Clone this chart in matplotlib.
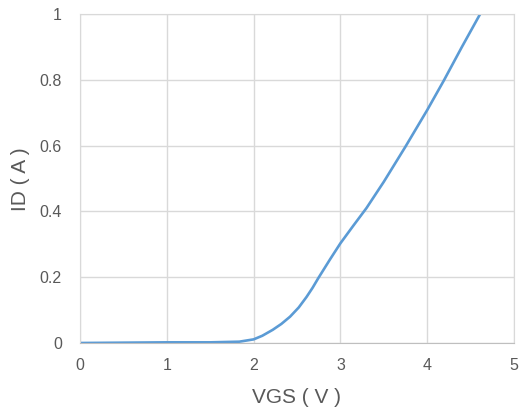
import numpy as np
import matplotlib.pyplot as plt

vgs = [0.0, 0.5, 1.0, 1.5, 1.835, 2.0, 2.1, 2.22, 2.32, 2.42, 2.52, 2.61, 2.68, 2.745, 2.88, 3.0, 3.15, 3.3, 3.5, 3.75, 4.0, 4.19, 4.4, 4.61]
id_a = [0.0, 0.001, 0.002, 0.002, 0.004, 0.011, 0.022, 0.04, 0.058, 0.08, 0.108, 0.14, 0.168, 0.197, 0.254, 0.303, 0.357, 0.41, 0.49, 0.597, 0.708, 0.797, 0.90, 1.0]

plt.rcParams['font.family'] = ['Liberation Sans', 'DejaVu Sans']
fig = plt.figure(figsize=(5.23, 4.15), dpi=100)
ax = fig.add_axes([80/523, 1-343/415, 434/523, 329/415])

ax.plot(vgs, id_a, color='#5B9BD5', lw=1.9, solid_capstyle='round', solid_joinstyle='round')
ax.set_xlim(0, 5)
ax.set_ylim(0, 1)
ax.set_xticks([0, 1, 2, 3, 4, 5])
ax.set_yticks([0, 0.2, 0.4, 0.6, 0.8, 1])
ax.set_yticklabels(['0', '0.2', '0.4', '0.6', '0.8', '1'])
ax.grid(True, color='#D9D9D9', lw=1)
ax.set_axisbelow(True)
for s in ax.spines.values():
    s.set_color('#D9D9D9')
ax.spines['bottom'].set_color('#BFBFBF')
ax.tick_params(length=0, colors='#595959', labelsize=11.5)
ax.tick_params(axis='y', pad=13)
ax.tick_params(axis='x', pad=11)

# axis titles placed in figure pixels
fig.text(297/523, 1-397/415, 'VGS ( V )', color='#595959', fontsize=15, ha='center', va='center')
fig.text(21/523, 1-179/415, 'ID ( A )', color='#595959', fontsize=15, ha='center', va='center', rotation=90)

fig.savefig('out.png')
